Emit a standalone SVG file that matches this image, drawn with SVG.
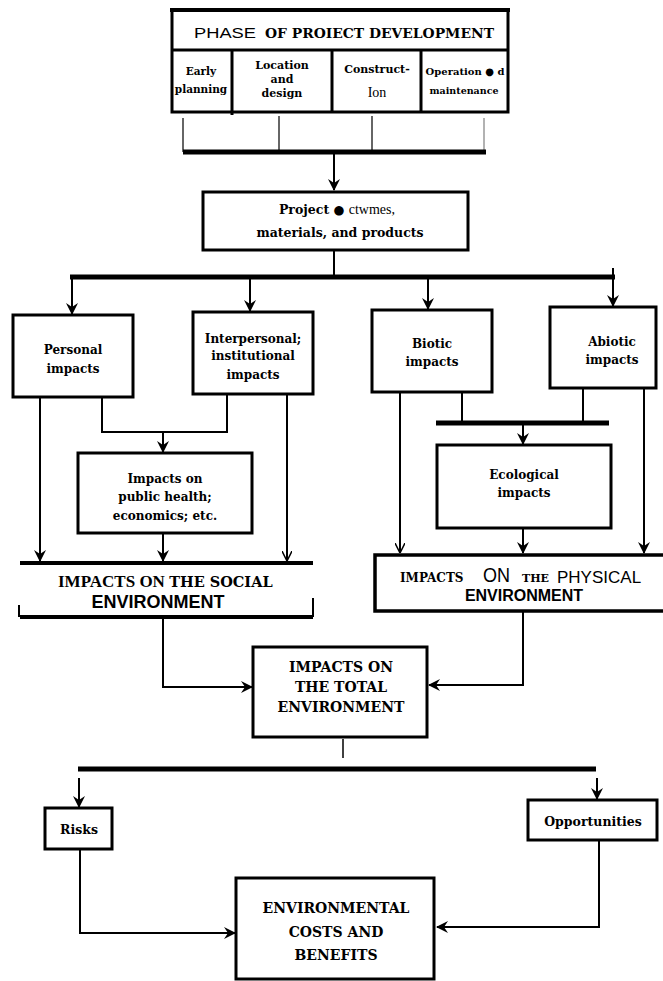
<svg xmlns="http://www.w3.org/2000/svg" width="663" height="981" viewBox="0 0 663 981">
<style>
.box{fill:#fff;stroke:#000;stroke-width:3}
.ln{fill:none;stroke:#000;stroke-width:2}
.bar{fill:none;stroke:#000;stroke-width:5}
.t{font-family:"DejaVu Serif","Liberation Serif",serif;font-weight:bold;fill:#000;text-anchor:middle}
.r{font-family:"Liberation Serif",serif;font-weight:normal}
.tb{font-family:"Liberation Serif",serif;font-weight:bold}
.s{font-family:"Liberation Sans",sans-serif;font-weight:normal}
.sb{font-family:"Liberation Sans",sans-serif;font-weight:bold}
.st{text-anchor:start}
</style>
<defs>
<marker id="ah" markerWidth="12" markerHeight="12" refX="11" refY="6" orient="auto" markerUnits="userSpaceOnUse">
<path d="M0,0 L12,6 L0,12 L4,6 z" fill="#000"/>
</marker>
<marker id="av" markerWidth="10" markerHeight="10" refX="10" refY="5" orient="auto" markerUnits="userSpaceOnUse">
<path d="M0,0 L10,5 L0,10" fill="none" stroke="#000" stroke-width="1.5"/>
</marker>
</defs>
<rect width="663" height="981" fill="#fff"/>

<g id="connectors">
<line x1="183" y1="118" x2="183" y2="152" stroke="#333" stroke-width="1.5"/>
<line x1="279" y1="116" x2="279" y2="152" stroke="#333" stroke-width="1.5"/>
<line x1="372" y1="116" x2="372" y2="150" stroke="#333" stroke-width="1.5"/>
<line x1="484" y1="118" x2="484" y2="150" stroke="#999" stroke-width="1.5"/>
<line class="bar" x1="183" y1="152" x2="486" y2="152"/>
<line class="ln" x1="334" y1="154" x2="334" y2="190" marker-end="url(#ah)"/>
<line class="ln" x1="334" y1="250" x2="334" y2="276"/>
<line class="bar" x1="70" y1="277" x2="615" y2="277"/>
<line class="ln" x1="72" y1="277" x2="72" y2="314" marker-end="url(#ah)"/>
<line class="ln" x1="250" y1="277" x2="250" y2="311" marker-end="url(#ah)"/>
<line class="ln" x1="428" y1="277" x2="428" y2="309" marker-end="url(#ah)"/>
<line class="ln" x1="613" y1="268" x2="613" y2="306" marker-end="url(#ah)"/>

<line class="ln" x1="40" y1="397" x2="40" y2="561" marker-end="url(#ah)"/>
<polyline class="ln" points="102,397 102,432 227,432 227,394"/>
<line class="ln" x1="163" y1="432" x2="163" y2="452" marker-end="url(#ah)"/>
<line class="ln" x1="287" y1="394" x2="287" y2="561" marker-end="url(#av)"/>
<line class="ln" x1="163" y1="533" x2="163" y2="561" marker-end="url(#ah)"/>
<polyline class="ln" points="163,617 163,687 252,687" marker-end="url(#ah)"/>

<line class="ln" x1="400" y1="392" x2="400" y2="553" marker-end="url(#av)"/>
<line class="ln" x1="462" y1="392" x2="462" y2="423"/>
<line class="ln" x1="583" y1="388" x2="583" y2="423"/>
<line class="bar" x1="436" y1="423" x2="609" y2="423" stroke-width="4"/>
<line class="ln" x1="523" y1="423" x2="523" y2="444" marker-end="url(#ah)"/>
<line class="ln" x1="644" y1="388" x2="644" y2="553" marker-end="url(#ah)"/>
<line class="ln" x1="523" y1="528" x2="523" y2="553" marker-end="url(#ah)"/>
<polyline class="ln" points="523,611 523,685 429,685" marker-end="url(#ah)"/>

<line x1="343" y1="739" x2="343" y2="758" stroke="#000" stroke-width="1.5"/>
<line class="bar" x1="78" y1="769" x2="596" y2="769"/>
<line class="ln" x1="79" y1="778" x2="79" y2="807" marker-end="url(#ah)"/>
<line class="ln" x1="597" y1="778" x2="597" y2="799" marker-end="url(#ah)"/>
<polyline class="ln" points="80,849 80,933 235,933" marker-end="url(#ah)"/>
<polyline class="ln" points="599,840 599,927 437,927" marker-end="url(#ah)"/>
</g>

<g id="phase">
<rect class="box" x="172" y="10" width="336" height="102"/>
<line x1="170" y1="10" x2="510" y2="10" stroke="#000" stroke-width="4"/>
<line x1="172" y1="50" x2="508" y2="50" stroke="#000" stroke-width="3"/>
<line x1="232" y1="50" x2="232" y2="115" stroke="#000" stroke-width="3"/>
<line x1="332" y1="50" x2="332" y2="112" stroke="#000" stroke-width="3"/>
<line x1="421" y1="50" x2="421" y2="112" stroke="#000" stroke-width="3"/>
<text class="t s st" font-size="15" x="194" y="38" textLength="62" lengthAdjust="spacingAndGlyphs">PHASE</text>
<text class="t st" font-size="13" x="265" y="38" textLength="229" lengthAdjust="spacingAndGlyphs">OF PROIECT DEVELOPMENT</text>
<text class="t" font-size="10.5" x="201" y="75">Early</text>
<text class="t" font-size="10.5" x="201" y="93">planning</text>
<text class="t" font-size="11" x="282" y="69">Location</text>
<text class="t" font-size="11" x="282" y="83">and</text>
<text class="t" font-size="11" x="282" y="97">design</text>
<text class="t" font-size="11" x="377" y="73">Construct-</text>
<text class="t r" font-size="14" x="377" y="97">Ion</text>
<text class="t" font-size="10" x="465" y="75">Operation ● d</text>
<text class="t" font-size="9.5" x="464" y="94">maintenance</text>
</g>

<g id="project">
<rect class="box" x="203" y="192" width="265" height="58"/>
<text class="t" font-size="12.5" x="337" y="214">Project ● <tspan class="r" font-size="14">ctwmes,</tspan></text>
<text class="t" font-size="12.5" x="340" y="237">materials, and products</text>
</g>

<g id="personal">
<rect class="box" x="13" y="315" width="120" height="82"/>
<text class="t" font-size="12" x="73" y="354">Personal</text>
<text class="t" font-size="12" x="73" y="373">impacts</text>
</g>

<g id="interpersonal">
<rect class="box" x="193" y="312" width="120" height="82"/>
<text class="t" font-size="12" x="253" y="343">Interpersonal;</text>
<text class="t" font-size="12" x="253" y="360">institutional</text>
<text class="t" font-size="12" x="253" y="379">impacts</text>
</g>

<g id="biotic">
<rect class="box" x="372" y="310" width="120" height="82"/>
<text class="t" font-size="12" x="432" y="348">Biotic</text>
<text class="t" font-size="12" x="432" y="366">impacts</text>
</g>

<g id="abiotic">
<rect class="box" x="550" y="307" width="106" height="81"/>
<text class="t" font-size="12" x="612" y="346">Abiotic</text>
<text class="t" font-size="12" x="612" y="364">impacts</text>
</g>

<g id="publichealth">
<rect class="box" x="78" y="453" width="174" height="80"/>
<text class="t" font-size="12" x="165" y="483">Impacts on</text>
<text class="t" font-size="12" x="165" y="501">public health;</text>
<text class="t" font-size="12" x="165" y="520">economics; etc.</text>
</g>

<g id="ecological">
<rect class="box" x="437" y="445" width="174" height="83"/>
<text class="t" font-size="12" x="524" y="479">Ecological</text>
<text class="t" font-size="12" x="524" y="497">impacts</text>
</g>

<g id="social">
<line x1="20" y1="563" x2="313" y2="563" stroke="#000" stroke-width="4"/>
<line x1="20" y1="617" x2="313" y2="617" stroke="#000" stroke-width="4"/>
<line x1="19" y1="605" x2="19" y2="617" stroke="#000" stroke-width="2"/>
<line x1="313" y1="598" x2="313" y2="617" stroke="#000" stroke-width="2"/>
<text class="t st" font-size="14" x="58" y="587"><tspan class="tb" font-size="17">IMPACTS ON </tspan><tspan font-size="14.5">THE SOCIAL</tspan></text>
<text class="t sb" font-size="18" x="158" y="608">ENVIRONMENT</text>
</g>

<g id="physical">
<polyline points="663,555 375,555 375,611 663,611" fill="none" stroke="#000" stroke-width="3.5"/>
<text class="t st" font-size="12" x="400" y="582">IMPACTS</text>
<text class="t s st" font-size="21" x="483" y="582" textLength="27" lengthAdjust="spacingAndGlyphs">ON</text>
<text class="t st" font-size="11" x="522" y="582">THE</text>
<text class="t s st" font-size="17" x="557" y="583">PHYSICAL</text>
<text class="t sb" font-size="16" x="524" y="601">ENVIRONMENT</text>
</g>

<g id="total">
<rect class="box" x="253" y="647" width="174" height="90"/>
<text class="t" font-size="14" x="341" y="672">IMPACTS ON</text>
<text class="t" font-size="14" x="341" y="692">THE TOTAL</text>
<text class="t" font-size="14" x="341" y="712">ENVIRONMENT</text>
</g>

<g id="risks">
<rect class="box" x="45" y="808" width="67" height="41"/>
<text class="t" font-size="12.5" x="79" y="834">Risks</text>
</g>

<g id="opportunities">
<rect class="box" x="528" y="800" width="129" height="40"/>
<text class="t" font-size="12.5" x="593" y="826">Opportunities</text>
</g>

<g id="costs">
<rect class="box" x="236" y="878" width="198" height="101"/>
<text class="t" font-size="14" x="336" y="913">ENVIRONMENTAL</text>
<text class="t" font-size="14" x="336" y="937">COSTS AND</text>
<text class="t" font-size="14" x="336" y="960">BENEFITS</text>
</g>
</svg>
